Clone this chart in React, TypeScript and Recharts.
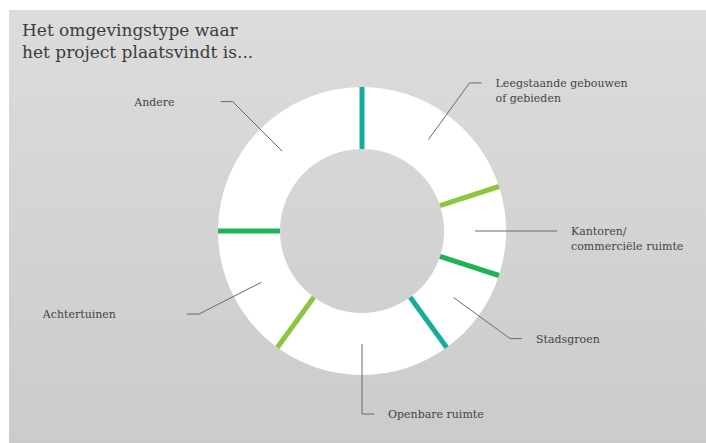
import { PieChart, Pie, Cell } from 'recharts';

const categories = [
  'Leegstaande gebouwen\nof gebieden',
  'Kantoren/\ncommerciële ruimte',
  'Stadsgroen',
  'Openbare ruimte',
  'Achtertuinen',
  'Andere',
];
const shares = [20, 10, 10, 20, 15, 25];
const dividerColors = ['#16ab9b', '#8cc63f', '#21b15b', '#16ab9b', '#8cc63f', '#21b15b'];

// left-hand labels sit a bit further away from their leader lines
const leftGap: Record<string, number> = { Andere: 46, Achtertuinen: 71 };

const data = categories.map((name, i) => ({ name, value: shares[i] }));

const RAD = Math.PI / 180;
const FONT = '"DejaVu Serif", serif';

function polar(cx: number, cy: number, r: number, angle: number) {
  return [cx + r * Math.cos(-angle * RAD), cy + r * Math.sin(-angle * RAD)];
}

function renderLabel(props: any) {
  const { cx, cy, midAngle, innerRadius, outerRadius, startAngle, index, name } = props;
  const midR = (innerRadius + outerRadius) / 2;
  const [x1, y1] = polar(cx, cy, midR, midAngle);
  const [x2, y2] = polar(cx, cy, outerRadius + 39, midAngle);
  const right = Math.cos(midAngle * RAD) >= -1e-6;
  const x3 = x2 + (right ? 12 : -12);
  const [s1x, s1y] = polar(cx, cy, innerRadius, startAngle);
  const [s2x, s2y] = polar(cx, cy, outerRadius, startAngle);
  const lines = String(name).split('\n');
  const tx = right ? x3 + 14 : x3 - (leftGap[name] ?? 14);
  return (
    <g key={`lbl-${index}`}>
      <line x1={s1x} y1={s1y} x2={s2x} y2={s2y} stroke={dividerColors[index]} strokeWidth={5} />
      <polyline
        points={`${x1},${y1} ${x2},${y2} ${x3},${y2}`}
        fill="none"
        stroke="#6a6a6a"
        strokeWidth={1}
      />
      <text
        x={tx}
        y={y2}
        textAnchor={right ? 'start' : 'end'}
        fontFamily={FONT}
        fontSize={11}
        fill="#454545"
      >
        {lines.map((l, i) => (
          <tspan key={i} x={tx} dy={i === 0 ? 4 : 15}>
            {l}
          </tspan>
        ))}
      </text>
    </g>
  );
}

export default function App() {
  return (
    <div style={{ position: 'absolute', left: 0, top: 0, width: 706, height: 443, background: '#fff' }}>
      <div
        style={{
          position: 'absolute',
          left: 9,
          top: 10,
          width: 697,
          height: 433,
          background: 'linear-gradient(to bottom, #dbdcdb, #cacbca)',
        }}
      />
      <div
        style={{
          position: 'absolute',
          left: 22,
          top: 19,
          fontFamily: FONT,
          fontSize: 17,
          lineHeight: '22px',
          color: '#3c3c3c',
        }}
      >
        Het omgevingstype waar
        <br />
        het project plaatsvindt is...
      </div>
      <div style={{ position: 'absolute', left: 0, top: 0 }}>
        <PieChart width={706} height={443} margin={{ top: 0, right: 0, bottom: 0, left: 0 }}>
          <Pie
            data={data}
            dataKey="value"
            nameKey="name"
            cx={362}
            cy={231}
            innerRadius={82}
            outerRadius={144}
            startAngle={90}
            endAngle={-270}
            stroke="none"
            label={renderLabel}
            labelLine={false}
            isAnimationActive={false}
          >
            {data.map((d) => (
              <Cell key={d.name} fill="#ffffff" />
            ))}
          </Pie>
        </PieChart>
      </div>
    </div>
  );
}
